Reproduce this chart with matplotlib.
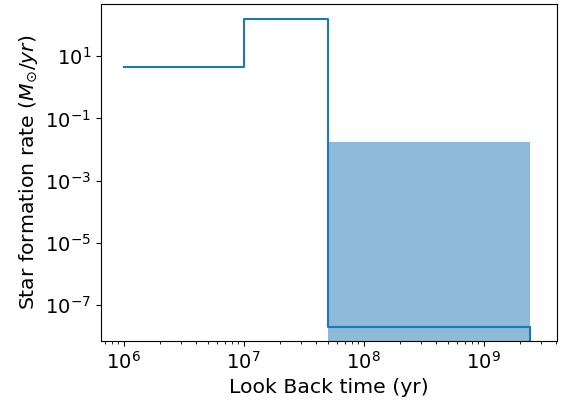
import matplotlib
matplotlib.use("Agg")
import matplotlib.pyplot as plt
import numpy as np

# Step SFR history (bin edges and rates)
bin_edges = [1e6, 1e7, 5e7, 2.45e9]
sfr_values = [4.5, 160.0, 2.0e-8]

# Uncertainty band on the last bin
band_x = [5e7, 2.45e9]
band_upper = [0.017, 0.017]
band_lower = [1e-12, 1e-12]

fig = plt.figure(figsize=(5.67, 4.0), dpi=100)
ax = fig.add_axes([0.178, 0.1475, 0.804, 0.8425])

step_x = bin_edges + [bin_edges[-1]]
step_y = sfr_values + [sfr_values[-1], 1e-12]
ax.plot(step_x, step_y, drawstyle="steps-post", color="C0", lw=1.5)
ax.fill_between(band_x, band_lower, band_upper, color="C0", alpha=0.5, lw=0)

ax.set_xscale("log")
ax.set_yscale("log")
ax.set_xlim(10**5.81, 10**9.61)
ax.set_ylim(10**-8.16, 10**2.68)
ax.set_yticks([1e1, 1e-1, 1e-3, 1e-5, 1e-7])
ax.yaxis.set_minor_locator(matplotlib.ticker.NullLocator())
ax.tick_params(labelsize=14)
ax.set_xlabel("Look Back time (yr)", fontsize=14.7)
ax.set_ylabel(r"Star formation rate ($M_{\odot}/yr$)", fontsize=14.7)

fig.savefig("out.png", dpi=100)
